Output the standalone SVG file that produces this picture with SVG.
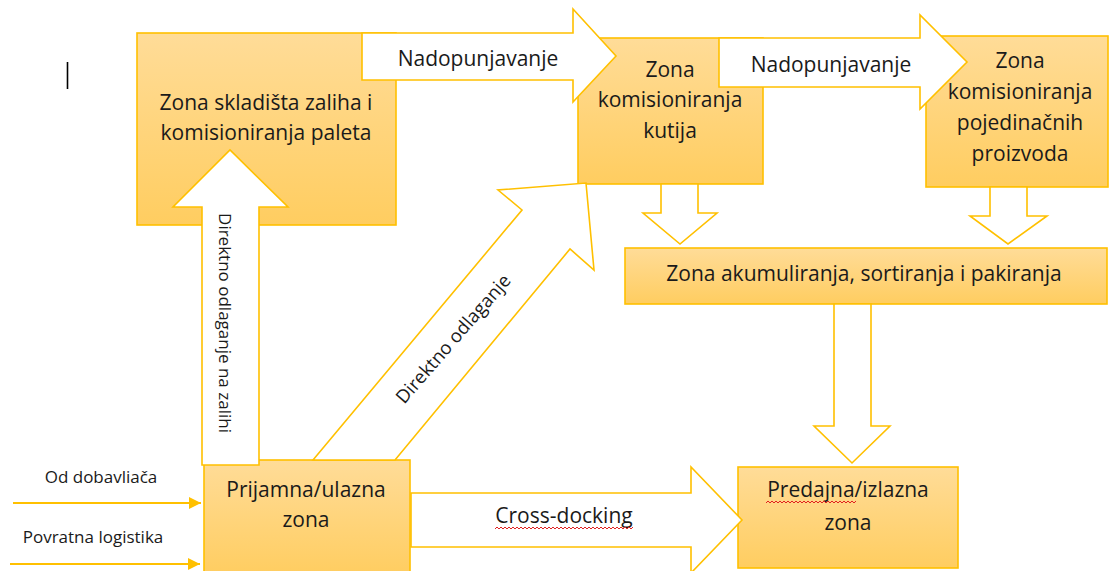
<svg xmlns="http://www.w3.org/2000/svg" width="1109" height="571" viewBox="0 0 1109 571">
<defs>
<linearGradient id="gold" x1="0" y1="0" x2="0" y2="1">
<stop offset="0" stop-color="#FFDC98"/>
<stop offset="1" stop-color="#FFCD60"/>
</linearGradient>
<marker id="tri" markerWidth="12" markerHeight="12" refX="12" refY="6" orient="auto" markerUnits="userSpaceOnUse">
<path d="M0,0 L12,6 L0,12 Z" fill="#FFC000"/>
</marker>
<style>
.box{fill:url(#gold);stroke:#FFC000;stroke-width:1.6}
.arr{fill:#FFFFFF;stroke:#FFC000;stroke-width:1.6;stroke-linejoin:miter}
.t{font-family:"Open Sans","Noto Sans","Liberation Sans",sans-serif;font-size:21px;fill:#1A1A1A;text-anchor:middle}
.s{font-family:"Open Sans","Noto Sans","Liberation Sans",sans-serif;font-size:17px;fill:#1A1A1A;text-anchor:middle}
.in{stroke:#FFC000;stroke-width:2;fill:none}
.sq{stroke:#E02020;stroke-width:1;fill:none}
</style>
</defs>
<rect width="1109" height="571" fill="#FFFFFF"/>
<line x1="67.5" y1="62" x2="67.5" y2="89" stroke="#000000" stroke-width="1.6"/>

<g id="zona-skladista">
<rect class="box" x="137" y="33" width="259" height="192"/>
<text class="t" x="266" y="110">Zona skladišta zaliha i</text>
<text class="t" x="266" y="140">komisioniranja paleta</text>
</g>
<g id="zona-kutija">
<rect class="box" x="578" y="38" width="185" height="146"/>
<text class="t" x="670" y="77">Zona</text>
<text class="t" x="670" y="107">komisioniranja</text>
<text class="t" x="670" y="138">kutija</text>
</g>
<g id="zona-proizvoda">
<rect class="box" x="926" y="36" width="182" height="151"/>
<text class="t" x="1020" y="68">Zona</text>
<text class="t" x="1020" y="99">komisioniranja</text>
<text class="t" x="1020" y="130">pojedinačnih</text>
<text class="t" x="1020" y="161">proizvoda</text>
</g>
<g id="zona-akumuliranja">
<rect class="box" x="625" y="248" width="482" height="56"/>
<text class="t" x="864" y="281">Zona akumuliranja, sortiranja i pakiranja</text>
</g>
<g id="predajna-zona">
<rect class="box" x="738" y="467" width="220" height="101"/>
<text class="t" x="848" y="497">Predajna/izlazna</text>
<text class="t" x="848" y="530">zona</text>
<polyline class="sq" points="766,503 768,501 770,503 772,501 774,503 776,501 778,503 780,501 782,503 784,501 786,503 788,501 790,503 792,501 794,503 796,501 798,503 800,501 802,503 804,501 806,503 808,501 810,503 812,501 814,503 816,501 818,503 820,501 822,503 824,501 826,503 828,501 830,503 832,501 834,503 836,501 838,503 840,501 842,503 844,501 846,503 848,501 850,503 852,501 854,503 856,501"/>
</g>
<g id="prijamna-zona">
<rect class="box" x="204" y="460" width="206" height="116"/>
<text class="t" x="306" y="497">Prijamna/ulazna</text>
<text class="t" x="306" y="527">zona</text>
</g>

<g id="connectors">
<polygon class="arr" points="313,460 522,210 498,190 586,183 594,270 570,249 395,460"/>
<text class="s" style="font-size:18.5px" transform="translate(458,343) rotate(-49)">Direktno odlaganje</text>
<polygon class="arr" points="202,465 202,207 173,207 230,150 288,207 259,207 259,465"/>
<text class="s" transform="translate(219,323) rotate(90)">Direktno odlaganje na zalihi</text>
<polygon class="arr" points="362,33 573,33 573,9 616,56 573,102 573,80 362,80"/>
<text class="t" x="478" y="66">Nadopunjavanje</text>
<polygon class="arr" points="719,38 920,38 920,15 967,62 920,109 920,87 719,87"/>
<text class="t" x="831" y="72">Nadopunjavanje</text>
<polygon class="arr" points="661,184 698,184 698,213 717,213 680,244 643,213 661,213"/>
<polygon class="arr" points="990,187 1027,187 1027,216 1047,216 1008,244 970,216 990,216"/>
<polygon class="arr" points="834,304 871,304 871,426 890,426 852,463 814,426 834,426"/>
<polygon class="arr" points="411,493 691,493 691,467 742,520 691,573 691,547 411,547"/>
<text class="t" x="564" y="523">Cross-docking</text>
<polyline class="sq" points="495,529 497,527 499,529 501,527 503,529 505,527 507,529 509,527 511,529 513,527 515,529 517,527 519,529 521,527 523,529 525,527 527,529 529,527 531,529 533,527 535,529 537,527 539,529 541,527 543,529 545,527 547,529 549,527 551,529 553,527 555,529 557,527 559,529 561,527 563,529 565,527 567,529 569,527 571,529 573,527 575,529 577,527 579,529 581,527 583,529 585,527 587,529 589,527 591,529 593,527 595,529 597,527 599,529 601,527 603,529 605,527 607,529 609,527 611,529 613,527 615,529 617,527 619,529 621,527 623,529 625,527 627,529 629,527 631,529 633,527"/>
<line class="in" x1="13" y1="503" x2="201" y2="503" marker-end="url(#tri)"/>
<text class="s" x="101" y="483">Od dobavliača</text>
<line class="in" x1="10" y1="564" x2="200" y2="564" marker-end="url(#tri)"/>
<text class="s" x="93" y="543">Povratna logistika</text>
</g>
</svg>
